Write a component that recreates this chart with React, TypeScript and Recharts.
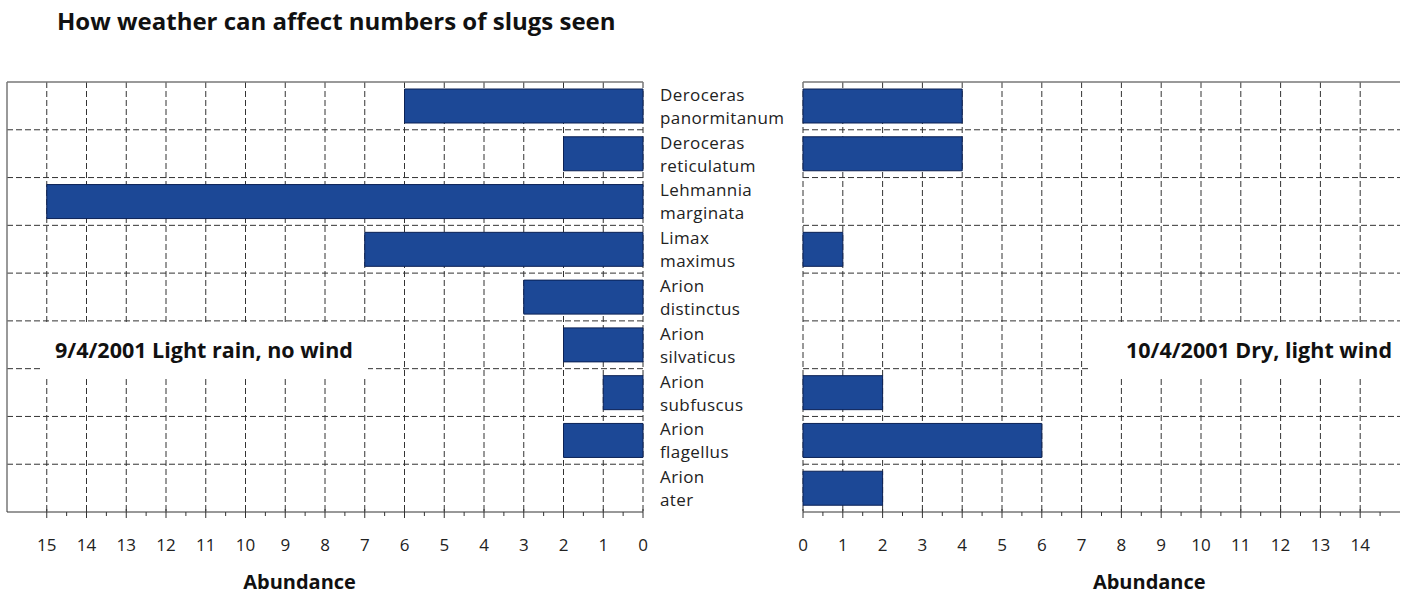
import { Bar, BarChart, CartesianGrid, XAxis, YAxis } from "recharts"

// species in plot order (top to bottom)
const species = [
  "Deroceras panormitanum",
  "Deroceras reticulatum",
  "Lehmannia marginata",
  "Limax maximus",
  "Arion distinctus",
  "Arion silvaticus",
  "Arion subfuscus",
  "Arion flagellus",
  "Arion ater",
]
// 9/4/2001, light rain, no wind
const rainCounts = [6, 2, 15, 7, 3, 2, 1, 2, 0]
// 10/4/2001, dry, light wind
const dryCounts = [4, 4, 0, 1, 0, 0, 2, 6, 2]

const leftTicks = Array.from({ length: 31 }, (_, i) => i / 2) // 0 .. 15
const rightTicks = Array.from({ length: 30 }, (_, i) => i / 2) // 0 .. 14.5
const leftGrid = Array.from({ length: 16 }, (_, i) => i)
const rightGrid = Array.from({ length: 15 }, (_, i) => i)

const rainData = species.map((name, i) => ({ name, count: rainCounts[i] }))
const dryData = species.map((name, i) => ({ name, count: dryCounts[i] }))

const FONT = "'Open Sans', sans-serif"
const BAR_FILL = "#1c4896"
const BAR_EDGE = "#0b2155"
const GRID = "#333"

const bandLines = ({ offset }: any) =>
  species.slice(1).map((_, i) => offset.top + ((i + 1) * offset.height) / species.length)

const AxisTick = ({ x, y, payload }: any) => {
  const v = payload.value
  const major = Number.isInteger(v)
  return (
    <g>
      <line x1={x} x2={x} y1={y - (major ? 3 : 0)} y2={y + (major ? 6 : 4)} stroke="#333" />
      {major && (
        <text x={x} y={y + 39} textAnchor="middle" fontSize={17} fill="#222" fontFamily={FONT}>
          {v}
        </text>
      )}
    </g>
  )
}

const SpeciesTick = ({ x, y, payload }: any) => {
  const [genus, epithet] = String(payload.value).split(" ")
  return (
    <text x={x + 17} y={y} fontSize={17} fill="#222" fontFamily={FONT} letterSpacing={0.4}>
      <tspan x={x + 17} dy={-5}>{genus}</tspan>
      <tspan x={x + 17} dy={23}>{epithet}</tspan>
    </text>
  )
}

const axisLabel = (text: string, frac: number) => ({ viewBox }: any) => (
  <text
    x={viewBox.x + viewBox.width * frac}
    y={viewBox.y + 77}
    textAnchor="middle"
    fontSize={20}
    fontWeight="bold"
    fill="#111"
    fontFamily={FONT}
  >
    {text}
  </text>
)

const noteBox = (left: number, width: number, text: string, align: "left" | "right") => (
  <div
    style={{
      position: "absolute",
      left,
      top: 325,
      width,
      height: 52,
      background: "#fff",
      fontFamily: FONT,
      fontWeight: "bold",
      fontSize: 21.5,
      color: "#111",
      lineHeight: "50px",
      textAlign: align,
      boxSizing: "border-box",
      padding: align === "left" ? "0 0 0 12px" : "0 10px 0 0",
      whiteSpace: "nowrap",
    }}
  >
    {text}
  </div>
)

export default function App() {
  return (
    <div style={{ position: "absolute", left: 0, top: 0, width: 1402, height: 597, background: "#fff" }}>
      <div
        style={{
          position: "absolute",
          left: 57,
          top: 4,
          fontFamily: FONT,
          fontWeight: "bold",
          fontSize: 24,
          color: "#111",
        }}
      >
        How weather can affect numbers of slugs seen
      </div>

      <div style={{ position: "absolute", left: 0, top: 0 }}>
        <BarChart
          width={800}
          height={597}
          data={rainData}
          layout="vertical"
          margin={{ top: 82, right: 0, bottom: 0, left: 7 }}
        >
          <CartesianGrid
            stroke={GRID}
            strokeDasharray="6 3"
            verticalValues={leftGrid}
            horizontalCoordinatesGenerator={bandLines}
          />
          <CartesianGrid
            stroke="#777"
            strokeWidth={1.5}
            verticalValues={[16]}
            horizontalCoordinatesGenerator={({ offset }: any) => [offset.top]}
          />
          <XAxis
            type="number"
            domain={[0, 16]}
            reversed
            ticks={leftTicks}
            interval={0}
            height={85}
            tickSize={0}
            tickMargin={0}
            tickLine={false}
            axisLine={{ stroke: "#333" }}
            tick={<AxisTick />}
            label={{ content: axisLabel("Abundance", 0.46) }}
          />
          <YAxis
            type="category"
            dataKey="name"
            orientation="right"
            width={157}
            tickSize={0}
            tickMargin={0}
            tickLine={false}
            axisLine={false}
            interval={0}
            tick={<SpeciesTick />}
          />
          <Bar dataKey="count" fill={BAR_FILL} stroke={BAR_EDGE} barSize={34} isAnimationActive={false} />
        </BarChart>
      </div>

      <div style={{ position: "absolute", left: 790, top: 0 }}>
        <BarChart
          width={612}
          height={597}
          data={dryData}
          layout="vertical"
          margin={{ top: 82, right: 2, bottom: 0, left: 13 }}
        >
          <CartesianGrid
            stroke={GRID}
            strokeDasharray="6 3"
            verticalValues={rightGrid}
            horizontalCoordinatesGenerator={bandLines}
          />
          <CartesianGrid
            stroke="#777"
            strokeWidth={1.5}
            vertical={false}
            horizontalCoordinatesGenerator={({ offset }: any) => [offset.top]}
          />
          <XAxis
            type="number"
            domain={[0, 15]}
            ticks={rightTicks}
            interval={0}
            height={85}
            tickSize={0}
            tickMargin={0}
            tickLine={false}
            axisLine={{ stroke: "#333" }}
            tick={<AxisTick />}
            label={{ content: axisLabel("Abundance", 0.58) }}
          />
          <YAxis type="category" dataKey="name" hide />
          <Bar dataKey="count" fill={BAR_FILL} stroke={BAR_EDGE} barSize={34} isAnimationActive={false} />
        </BarChart>
      </div>

      {noteBox(43, 325, "9/4/2001 Light rain, no wind", "left")}
      {noteBox(1090, 312, "10/4/2001 Dry, light wind", "right")}
    </div>
  )
}
